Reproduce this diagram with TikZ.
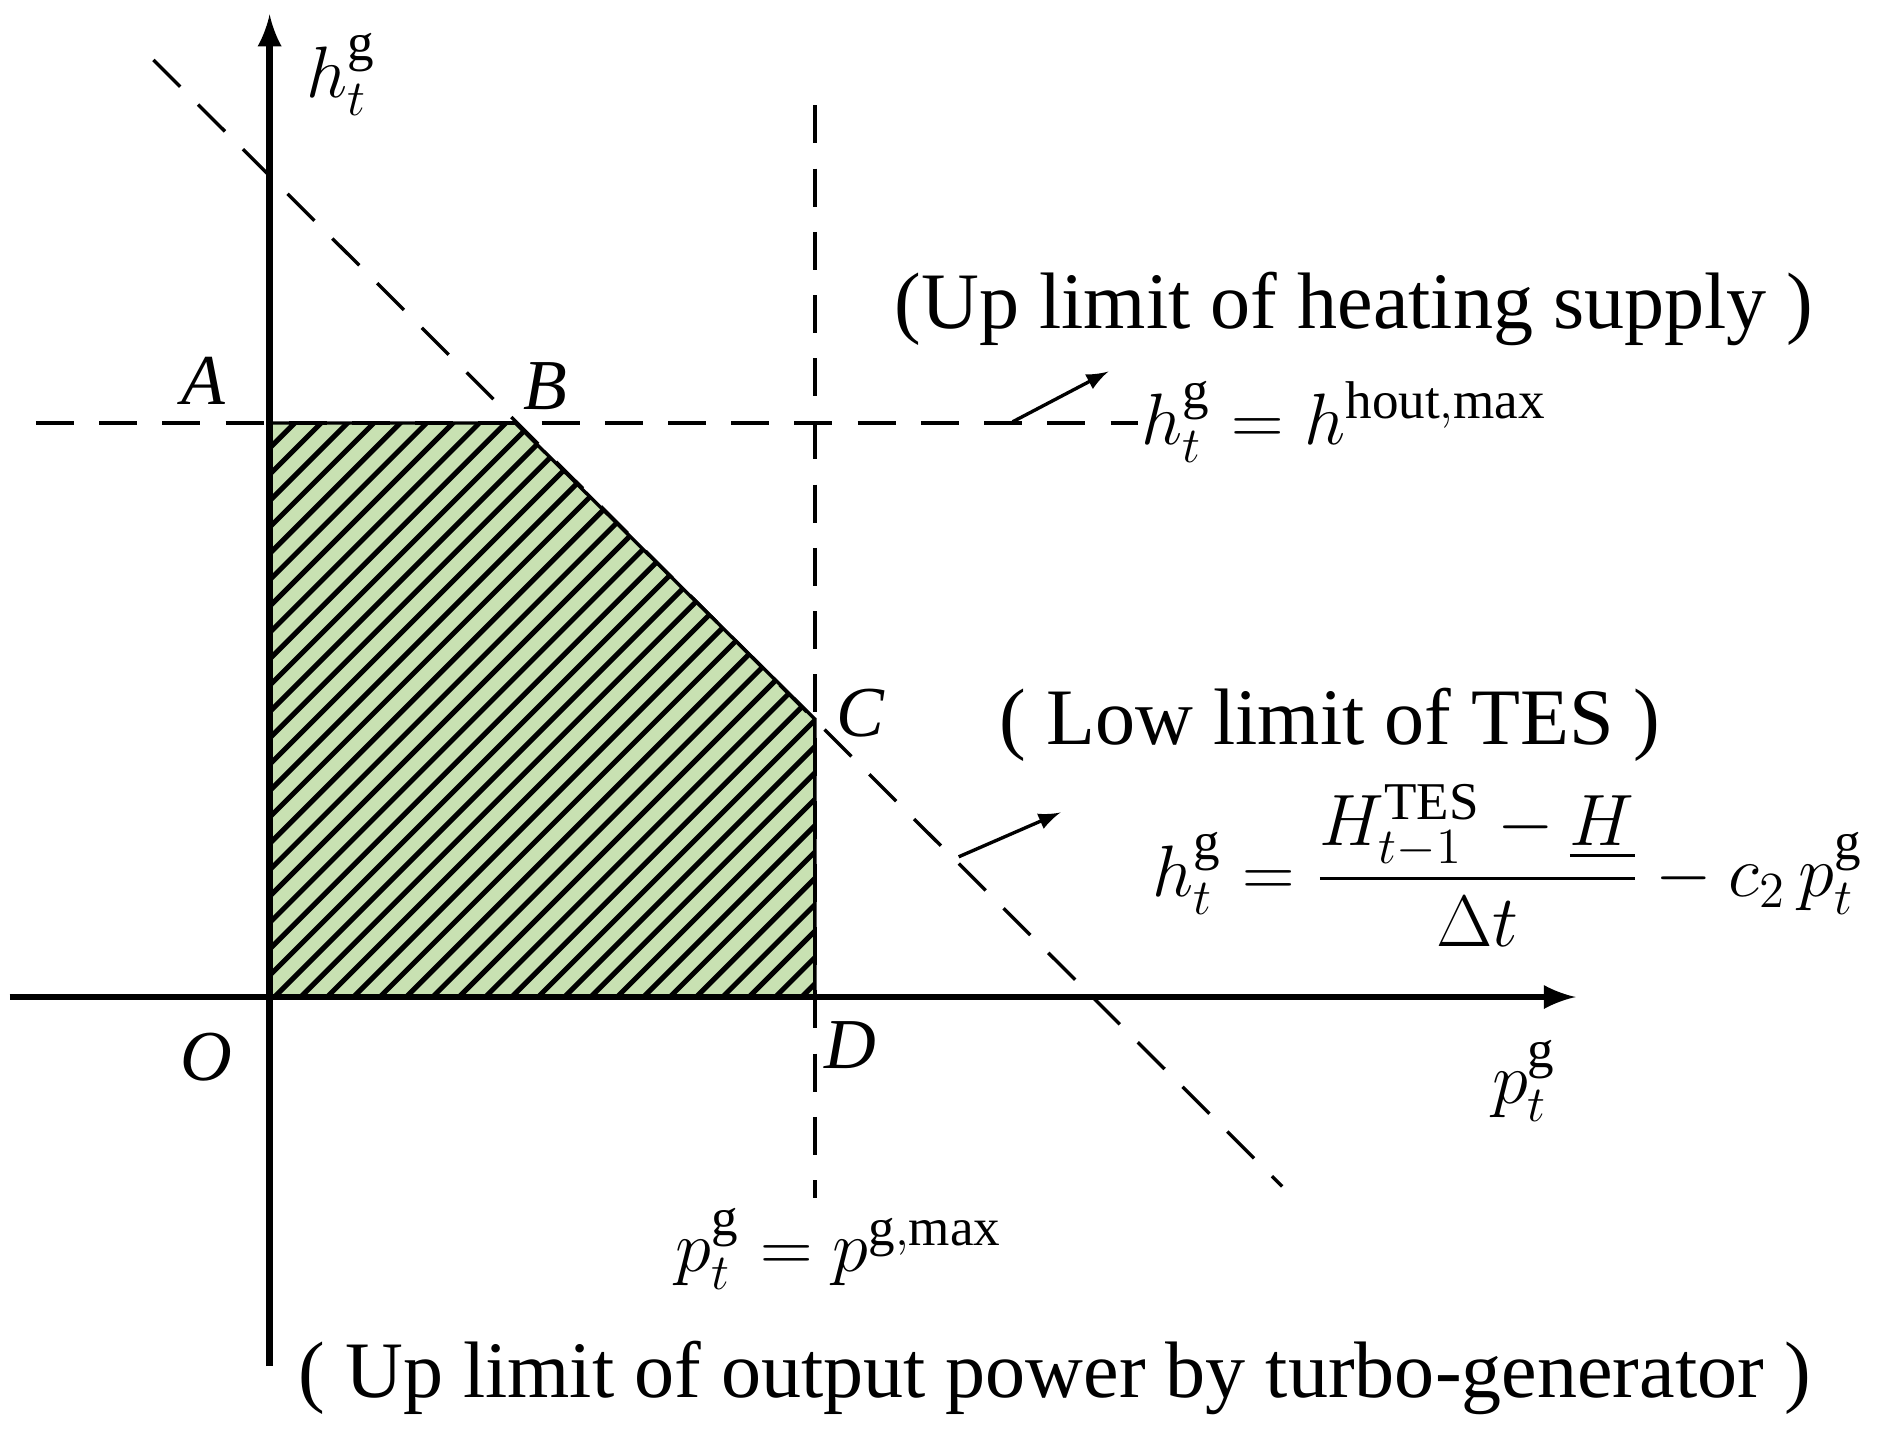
\documentclass[tikz,border=0pt]{standalone}
\usepackage{amsmath}
\usepackage{fontspec}
\setmainfont{Liberation Serif}
\usetikzlibrary{arrows,positioning}
\tikzset{
axis/.style={
    line width=1.6pt,
    -latex
},
limit/.style={
    dash pattern=on 9pt off 6pt,
    thick
},
pointer/.style={
    thick,
    -latex
},
corner/.style={
    font=\fontsize{17}{20}\selectfont\itshape
},
descr/.style={
    font=\fontsize{19}{22}\selectfont,
    inner sep=0pt
},
formula/.style={
    font=\fontsize{18}{21}\selectfont,
    inner sep=0pt
}
}
\begin{document}
\begin{tikzpicture}[x=0.01cm,y=-0.01cm]
\useasboundingbox (0,0) rectangle (1568,1200);
% feasible region
\coordinate (O) at (225,832);
\coordinate (A) at (225,353);
\coordinate (B) at (430,353);
\coordinate (C) at (680,600);
\coordinate (D) at (680,832);
\fill[fill={rgb,255:red,200;green,225;blue,178}] (O) -- (A) -- (B) -- (C) -- (D) -- cycle;
\begin{scope}
\clip (O) -- (A) -- (B) -- (C) -- (D) -- cycle;
\foreach \s in {-700,-678,...,500}
    \draw[line width=1.2pt] (225+\s,832) -- ++(700,-700);
\end{scope}
\draw[thick] (A) -- (B) -- (C) -- (D);
% limit lines
\draw[limit] (30,353) -- (950,353);
\draw[limit] (680,88) -- (680,1000);
\draw[limit] (128,50) -- (1070,990);
% axes
\draw[axis] (8,832) -- (1315,832);
\draw[axis] (225,1140) -- (225,12);
% pointers
\coordinate (p1) at (845,352);
\coordinate (q1) at (925,310);
\coordinate (p2) at (800,715);
\coordinate (q2) at (885,678);
\draw[pointer] (p1) -- (q1);
\draw[pointer] (p2) -- (q2);
% labels
\node[corner] (lA) at (170,318) {A};
\node[corner] (lB) at (455,322) {B};
\node[corner] (lC) at (718,595) {C};
\node[corner] (lD) at (710,872) {D};
\node[corner] (lO) at (172,882) {O};
\node[formula] (yl) at (285,62) {$h_t^{\mathrm{g}}$};
\node[formula] (xl) at (1272,902) {$p_t^{\mathrm{g}}$};
\node[descr] (heat) at (1130,258) {(Up limit of heating supply )};
\node[formula] (heq) at (1122,352) {$h_t^{\mathrm{g}} = h^{\mathrm{hout,max}}$};
\node[descr] (tes) at (1110,605) {( Low limit of TES )};
\node[formula] (teq) at (1258,722) {$h_t^{\mathrm{g}} = \dfrac{H_{t-1}^{\mathrm{TES}}-\underline{H}}{\Delta t} - c_2\,p_t^{\mathrm{g}}$};
\node[formula] (peq) at (700,1042) {$p_t^{\mathrm{g}} = p^{\mathrm{g,max}}$};
\node[descr] (pow) at (880,1150) {( Up limit of output power by turbo-generator )};
\end{tikzpicture}
\end{document}
